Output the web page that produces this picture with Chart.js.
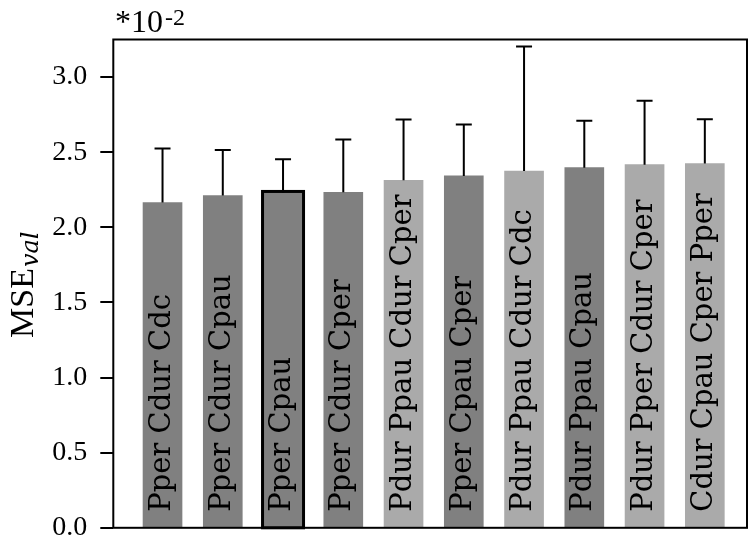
<!DOCTYPE html>
<html>
<head>
<meta charset="utf-8">
<script src="https://cdn.jsdelivr.net/npm/chart.js@4.4.1/dist/chart.umd.min.js"></script>
<style>
  html, body { margin: 0; padding: 0; background: #fff; }
  #wrap { width: 755px; height: 544px; }
</style>
</head>
<body>
<div id="wrap"><canvas id="chart" width="755" height="544"></canvas></div>
<script>
// data (values in units of 1e-2)
const combos = [
  'Pper Cdur Cdc', 'Pper Cdur Cpau', 'Pper Cpau', 'Pper Cdur Cper',
  'Pdur Ppau Cdur Cper', 'Pper Cpau Cper', 'Pdur Ppau Cdur Cdc',
  'Pdur Ppau Cpau', 'Pdur Pper Cdur Cper', 'Cdur Cpau Cper Pper'
]
const mse = [2.165, 2.211, 2.232, 2.233, 2.313, 2.342, 2.375, 2.397, 2.417, 2.424]
const mseErr = [0.359, 0.303, 0.221, 0.351, 0.404, 0.343, 0.829, 0.313, 0.426, 0.295]
const yTicks = [0, 0.5, 1.0, 1.5, 2.0, 2.5, 3.0]
const lightBars = [4, 6, 8, 9]
const boxedBar = 2

const DARK = '#808080'
const LIGHT = '#aaaaaa'
const LABEL_FONT = '29px "DejaVu Serif"'

const barExtras = {
  id: 'barExtras',
  afterDatasetsDraw(chart) {
    const { ctx, chartArea, scales: { y } } = chart
    const bars = chart.getDatasetMeta(0).data
    const base = y.getPixelForValue(0)

    // names written up the bars
    ctx.save()
    ctx.fillStyle = '#000'
    ctx.font = LABEL_FONT
    ctx.textAlign = 'left'
    ctx.textBaseline = 'alphabetic'
    bars.forEach((bar, i) => {
      ctx.save()
      ctx.translate(bar.x + 7, base - 16)
      ctx.rotate(-Math.PI / 2)
      ctx.fillText(combos[i], 0, 0)
      ctx.restore()
    })
    ctx.restore()

    // the boxed bar
    const b = bars[boxedBar]
    ctx.save()
    ctx.strokeStyle = '#000'
    ctx.lineWidth = 3
    ctx.strokeRect(b.x - b.width / 2 - 1, b.y - 1, b.width + 2, base - b.y + 1)
    ctx.restore()

    // upper error bars
    ctx.save()
    ctx.strokeStyle = '#000'
    ctx.lineWidth = 2
    bars.forEach((bar, i) => {
      const top = y.getPixelForValue(mse[i] + mseErr[i])
      ctx.beginPath()
      ctx.moveTo(bar.x, y.getPixelForValue(mse[i]))
      ctx.lineTo(bar.x, top)
      ctx.moveTo(bar.x - 8, top)
      ctx.lineTo(bar.x + 8, top)
      ctx.stroke()
    })
    ctx.restore()

    // frame
    ctx.save()
    ctx.strokeStyle = '#000'
    ctx.lineWidth = 2
    ctx.strokeRect(chartArea.left, chartArea.top, chartArea.right - chartArea.left, chartArea.bottom - chartArea.top)
    ctx.restore()
  },
  afterDraw(chart) {
    const { ctx } = chart
    ctx.save()
    ctx.fillStyle = '#000'
    ctx.textAlign = 'left'
    ctx.textBaseline = 'alphabetic'

    // y title: MSE_val
    ctx.save()
    ctx.translate(33, 338)
    ctx.rotate(-Math.PI / 2)
    ctx.font = '34px "Liberation Serif"'
    ctx.fillText('MSE', 0, 0)
    const w = ctx.measureText('MSE').width
    ctx.font = 'italic 24px "DejaVu Serif"'
    ctx.fillText('val', w + 1, 5)
    ctx.restore()

    // scale factor
    ctx.font = '32px "Liberation Serif"'
    ctx.fillText('*10', 115, 32)
    ctx.font = '24px "Liberation Serif"'
    ctx.fillText('-2', 165, 25)
    ctx.restore()
  }
}

new Chart(document.getElementById('chart'), {
  type: 'bar',
  data: {
    datasets: [{
      data: mse.map((v, i) => ({ x: i, y: v })),
      backgroundColor: mse.map((_, i) => lightBars.includes(i) ? LIGHT : DARK),
      borderWidth: 0,
      barThickness: 39
    }]
  },
  options: {
    responsive: false,
    animation: false,
    devicePixelRatio: 1,
    layout: { padding: { top: 39.5, right: 8, bottom: 16.2, left: 0 } },
    plugins: { legend: { display: false }, tooltip: { enabled: false } },
    scales: {
      x: { type: 'linear', min: -0.817, max: 9.70, offset: false, display: false },
      y: {
        min: 0,
        max: 3.25,
        afterBuildTicks: (s) => { s.ticks = yTicks.map(v => ({ value: v })) },
        afterFit: (s) => { s.width = 113.3; s.paddingTop = 0; s.paddingBottom = 0 },
        border: { display: false },
        grid: { drawOnChartArea: false, drawTicks: true, tickLength: 13, color: '#000', lineWidth: 2 },
        ticks: {
          color: '#000',
          padding: 13,
          font: { family: 'Liberation Serif', size: 28 },
          callback: (v) => v.toFixed(1)
        }
      }
    }
  },
  plugins: [barExtras]
})
</script>
</body>
</html>
